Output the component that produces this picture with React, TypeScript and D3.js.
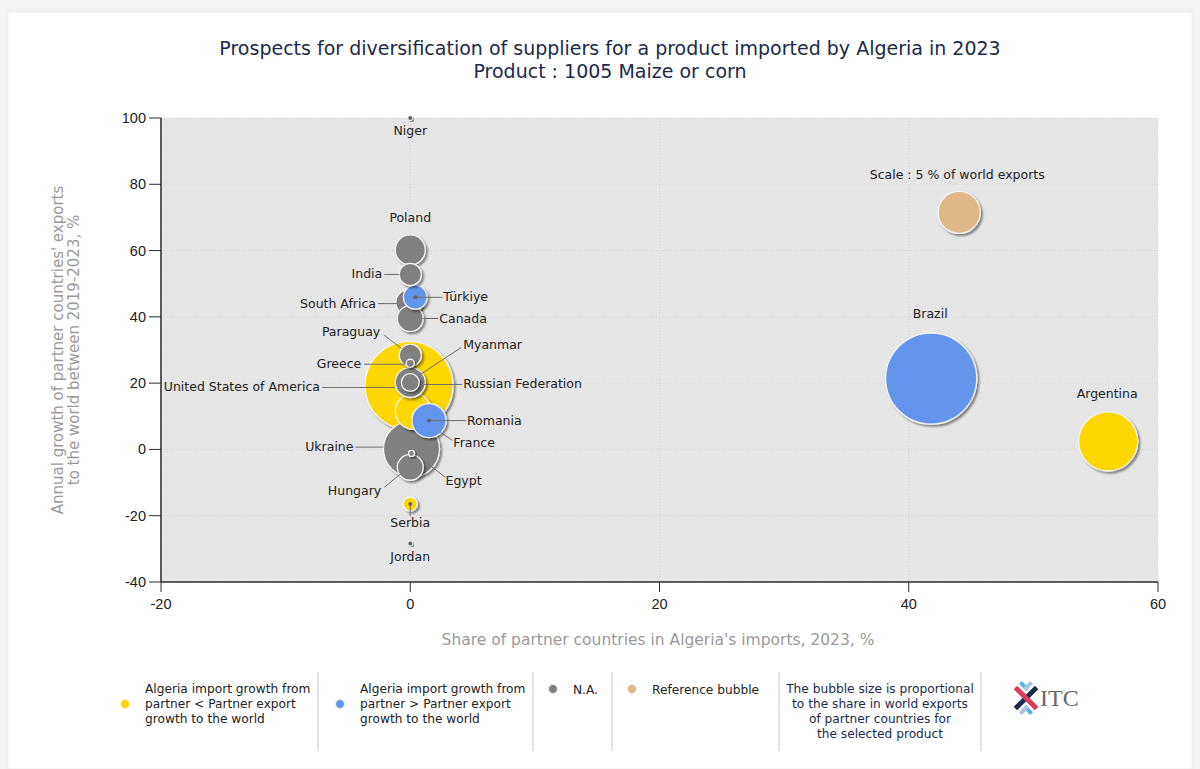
import React from 'react';
import * as d3 from 'd3';

// partner countries (order matches every array below)
const countries = [
  'Niger', 'Poland', 'India', 'Türkiye', 'South Africa', 'Canada', 'Paraguay', 'Greece',
  'Myanmar', 'Russian Federation', 'United States of America', 'France', 'Romania',
  'Ukraine', 'Egypt', 'Hungary', 'Serbia', 'Jordan', 'Brazil', 'Argentina',
];
// share of partner in Algeria's imports, 2023, %
const importShare = [
  0, 0, 0, 0.4, -0.1, 0, 0, 0, 0, 0, -0.1, 0.25, 1.5, 0.1, 0.1, 0, 0, 0, 41.8, 56.0,
];
// annual growth of partner exports to the world 2019-2023, %
const exportGrowth = [
  100, 60.2, 52.8, 45.9, 44.3, 39.5, 28.4, 26.0, 20.2, 20.2, 19.3, 11.5, 8.7,
  0.1, -1.2, -5.4, -16.5, -28.4, 21.4, 2.4,
];
// share in world exports of the product, %
const worldShare = [
  0.04, 2.55, 1.4, 1.6, 1.95, 1.9, 1.4, 0.18, 0.9, 2.55, 22, 3.7, 3.3,
  8.9, 0.1, 1.9, 0.55, 0.04, 23.5, 9.9,
];
// lower: Algeria import growth < partner export growth, higher: >, na: N.A.
const growthGroup = [
  'na', 'na', 'na', 'higher', 'na', 'na', 'na', 'na', 'na', 'na', 'lower', 'lower', 'higher',
  'na', 'na', 'na', 'lower', 'na', 'higher', 'lower',
];

const referenceBubble = { label: 'Scale : 5 % of world exports', x: 44.05, y: 71.5, share: 5 };

const xTicks = [-20, 0, 20, 40, 60];
const yTicks = [-40, -20, 0, 20, 40, 60, 80, 100];

const legendItems = [
  { group: 'lower', lines: ['Algeria import growth from', 'partner < Partner export', 'growth to the world'] },
  { group: 'higher', lines: ['Algeria import growth from', 'partner > Partner export', 'growth to the world'] },
  { group: 'na', lines: ['N.A.'] },
  { group: 'ref', lines: ['Reference bubble'] },
];
const sizeNote = [
  'The bubble size is proportional',
  'to the share in world exports',
  'of partner countries for',
  'the selected product',
];

const colors: Record<string, string> = {
  lower: '#FFD700',
  higher: '#6495ED',
  na: '#808080',
  ref: '#DEB887',
};

// label placement relative to bubble centre (px)
type LabelPos = { dx: number; dy: number; anchor: string; line?: number[]; dot?: boolean };
const labelLayout: Record<string, LabelPos> = {
  Niger: { dx: 0, dy: 17, anchor: 'middle', dot: true },
  Poland: { dx: 0, dy: -28, anchor: 'middle' },
  India: { dx: -28, dy: 4, anchor: 'end', line: [-26, 0, -11, 0] },
  'Türkiye': { dx: 28, dy: 4, anchor: 'start', line: [0, 0, 27, 0], dot: true },
  'South Africa': { dx: -33, dy: 5, anchor: 'end', line: [-31, 1, -12, 1] },
  Canada: { dx: 29, dy: 4, anchor: 'start', line: [13, 0, 28, 0] },
  Paraguay: { dx: -30, dy: -19, anchor: 'end', line: [-26, -20, -9, -7] },
  Greece: { dx: -49, dy: 5, anchor: 'end', line: [-46, 1, -5, 1] },
  Myanmar: { dx: 53, dy: -33, anchor: 'start', line: [51, -35, 10, -8] },
  'Russian Federation': { dx: 53, dy: 6, anchor: 'start', line: [14, 2, 52, 2] },
  'United States of America': { dx: -89, dy: 6, anchor: 'end', line: [-87, 2, -14, 2] },
  France: { dx: 40, dy: 36, anchor: 'start', line: [27, 21, 39, 29] },
  Romania: { dx: 38, dy: 4, anchor: 'start', line: [0, 0, 37, 0], dot: true },
  Ukraine: { dx: -58, dy: 2, anchor: 'end', line: [-56, -2, -28, -2] },
  Egypt: { dx: 34, dy: 32, anchor: 'start', line: [34, 24, 16, 10] },
  Hungary: { dx: -29, dy: 28, anchor: 'end', line: [-26, 20, -9, 6] },
  Serbia: { dx: 0, dy: 23, anchor: 'middle', line: [0, 0, 0, 12], dot: true },
  Jordan: { dx: 0, dy: 17, anchor: 'middle', dot: true },
  Brazil: { dx: -1, dy: -61, anchor: 'middle' },
  Argentina: { dx: -1, dy: -43, anchor: 'middle' },
};

const W = 1200;
const H = 769;
const plot = { left: 161, right: 1158, top: 118, bottom: 582 };
const labelFont = '"DejaVu Sans", Verdana, sans-serif';
const tickFont = '"Liberation Sans", Arial, sans-serif';

export default function App() {
  const x = d3.scaleLinear().domain([-20, 60]).range([plot.left, plot.right]);
  const y = d3.scaleLinear().domain([-40, 100]).range([plot.bottom, plot.top]);
  const r = d3.scaleSqrt().domain([0, 5]).range([0, 21]);

  const bubbles = countries
    .map((name, i) => ({
      name,
      cx: x(importShare[i]),
      cy: y(exportGrowth[i]),
      rad: Math.max(2, r(worldShare[i])),
      share: worldShare[i],
      color: colors[growthGroup[i]],
    }))
    .sort((a, b) => b.share - a.share);

  const refX = x(referenceBubble.x);
  const refY = y(referenceBubble.y);

  const legendX = [125, 340, 553, 632];
  const separators = [318, 533, 612, 779, 981];

  return (
    <svg width={W} height={H} style={{ position: 'absolute', left: 0, top: 0 }}>
      <defs>
        <filter id="shadow" x="-30%" y="-30%" width="160%" height="160%">
          <feDropShadow dx="2" dy="2" stdDeviation="1.2" floodColor="#000" floodOpacity="0.45" />
        </filter>
      </defs>
      <rect width={W} height={H} fill="#f3f3f3" />
      <rect x={8} y={12} width={1184} height={H - 12} fill="#fff" stroke="#ececec" />

      {/* title */}
      <text x={610} y={55} textAnchor="middle" fontFamily={labelFont} fontSize={19} fill="#1c2a48">
        Prospects for diversification of suppliers for a product imported by Algeria in 2023
      </text>
      <text x={610} y={78} textAnchor="middle" fontFamily={labelFont} fontSize={19} fill="#1c2a48">
        Product : 1005 Maize or corn
      </text>

      {/* plot background + grid */}
      <rect x={plot.left} y={plot.top} width={plot.right - plot.left} height={plot.bottom - plot.top} fill="#e6e6e6" />
      {xTicks.map(t => (
        <line key={'gx' + t} x1={x(t)} x2={x(t)} y1={plot.top} y2={plot.bottom} stroke="#d2d2d2" strokeDasharray="1,2" />
      ))}
      {yTicks.map(t => (
        <line key={'gy' + t} x1={plot.left} x2={plot.right} y1={y(t)} y2={y(t)} stroke="#d2d2d2" strokeDasharray="1,2" />
      ))}

      {/* axes */}
      <line x1={plot.left} x2={plot.left} y1={plot.top} y2={plot.bottom} stroke="#2b2b2b" strokeWidth={1.5} />
      <line x1={plot.left} x2={plot.right} y1={plot.bottom} y2={plot.bottom} stroke="#2b2b2b" strokeWidth={1.5} />
      {yTicks.map(t => (
        <g key={'yt' + t}>
          <line x1={plot.left - 12} x2={plot.left} y1={y(t)} y2={y(t)} stroke="#2b2b2b" />
          <text x={plot.left - 15} y={y(t) + 5} textAnchor="end" fontFamily={tickFont} fontSize={14.5} fill="#222">{t}</text>
        </g>
      ))}
      {xTicks.map(t => (
        <g key={'xt' + t}>
          <line x1={x(t)} x2={x(t)} y1={plot.bottom} y2={plot.bottom + 10} stroke="#2b2b2b" />
          <text x={x(t)} y={plot.bottom + 27} textAnchor="middle" fontFamily={tickFont} fontSize={14.5} fill="#222">{t}</text>
        </g>
      ))}
      <text x={658} y={645} textAnchor="middle" fontFamily={labelFont} fontSize={15.5} fill="#9a9a9a">
        Share of partner countries in Algeria's imports, 2023, %
      </text>
      <g transform="translate(63,350) rotate(-90)" fontFamily={labelFont} fontSize={15} fill="#9a9a9a">
        <text x={0} y={0} textAnchor="middle">Annual growth of partner countries' exports</text>
        <text x={0} y={16} textAnchor="middle">to the world between 2019-2023, %</text>
      </g>

      {/* bubbles */}
      {bubbles.map(b => (
        <circle key={b.name} cx={b.cx} cy={b.cy} r={b.rad} fill={b.color} stroke="#f4f4f4" strokeWidth={1.3} filter="url(#shadow)" />
      ))}
      <circle cx={refX} cy={refY} r={r(referenceBubble.share)} fill={colors.ref} stroke="#f4f4f4" strokeWidth={1.3} filter="url(#shadow)" />

      {/* leader lines and labels */}
      {bubbles.map(b => {
        const l = labelLayout[b.name];
        return (
          <g key={'l' + b.name}>
            {l.line && (
              <line x1={b.cx + l.line[0]} y1={b.cy + l.line[1]} x2={b.cx + l.line[2]} y2={b.cy + l.line[3]} stroke="#6e6e6e" strokeWidth={1} />
            )}
            {l.dot && <circle cx={b.cx} cy={b.cy} r={2} fill="#666" />}
          </g>
        );
      })}
      {bubbles.map(b => {
        const l = labelLayout[b.name];
        return (
          <text key={'t' + b.name} x={b.cx + l.dx} y={b.cy + l.dy} textAnchor={l.anchor} fontFamily={labelFont} fontSize={12.5} fill="#222">
            {b.name}
          </text>
        );
      })}
      <text x={refX - 2} y={refY - 33} textAnchor="middle" fontFamily={labelFont} fontSize={12.5} fill="#222">
        {referenceBubble.label}
      </text>

      {/* legend */}
      {separators.map(s => (
        <line key={'s' + s} x1={s} x2={s} y1={672} y2={751} stroke="#c8c8c8" />
      ))}
      {legendItems.map((item, i) => {
        const cy = item.lines.length > 1 ? 704 : 689;
        const top = item.lines.length > 1 ? 693 : 694;
        return (
          <g key={'lg' + i}>
            <circle cx={legendX[i]} cy={cy} r={4.5} fill={colors[item.group]} stroke="#eee" />
            {item.lines.map((line, j) => (
              <text key={j} x={legendX[i] + 20} y={top + j * 15} fontFamily={labelFont} fontSize={12.2} fill="#222">{line}</text>
            ))}
          </g>
        );
      })}
      {sizeNote.map((line, j) => (
        <text key={'n' + j} x={880} y={693 + j * 15} textAnchor="middle" fontFamily={labelFont} fontSize={12.2} fill="#1c2a48">{line}</text>
      ))}

      {/* ITC logo */}
      <g transform="translate(1026,698)">
        <rect x={-15} y={-2.5} width={30} height={5} fill="#1d2b4f" transform="rotate(-45)" />
        <rect x={-15} y={-2.5} width={30} height={5} fill="#e03a5a" transform="rotate(45)" />
        <rect x={-15} y={-9} width={10} height={4} fill="#5bb5e6" transform="rotate(45)" />
        <rect x={5} y={5} width={10} height={4} fill="#5bb5e6" transform="rotate(45)" />
        <rect x={-15} y={5} width={10} height={4} fill="#a9c4dd" transform="rotate(-45)" />
        <rect x={5} y={-9} width={10} height={4} fill="#a9c4dd" transform="rotate(-45)" />
      </g>
      <text x={1040} y={706} fontFamily='"Liberation Serif", serif' fontSize={24} fill="#6a6a6a">ITC</text>
    </svg>
  );
}
